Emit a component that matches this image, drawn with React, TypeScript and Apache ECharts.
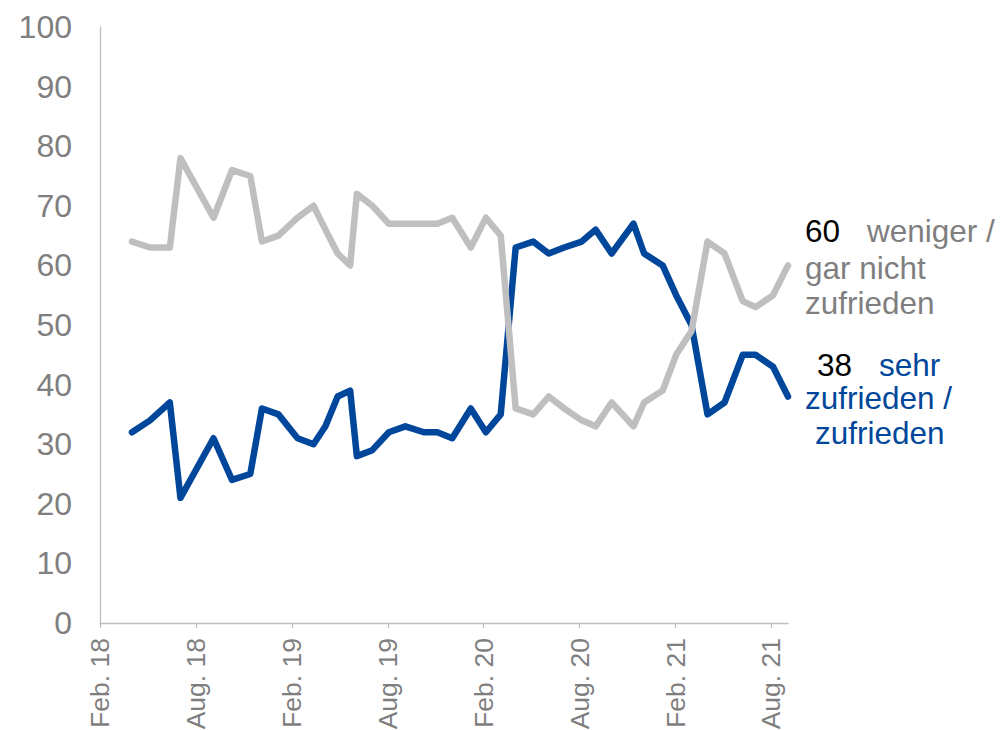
import React, { useEffect, useRef } from "react";
import * as echarts from "echarts";

// Survey dates (approximate publication dates)
const surveyDates = [
  "2018-04-01", "2018-05-05", "2018-06-12", "2018-07-02", "2018-09-04", "2018-10-09",
  "2018-11-13", "2018-12-05", "2019-01-06", "2019-02-11", "2019-03-12", "2019-04-04",
  "2019-04-27", "2019-05-21", "2019-06-03", "2019-07-02", "2019-08-03", "2019-09-04",
  "2019-10-09", "2019-11-04", "2019-12-02", "2020-01-07", "2020-02-05", "2020-03-03",
  "2020-04-01", "2020-05-04", "2020-06-03", "2020-07-02", "2020-08-05", "2020-09-01",
  "2020-10-01", "2020-11-12", "2020-12-02", "2021-01-07", "2021-02-02", "2021-03-01",
  "2021-04-01", "2021-05-03", "2021-06-07", "2021-07-01", "2021-08-04", "2021-09-02",
];

// "sehr zufrieden / zufrieden"
const satisfied = [
  32, 34, 37, 21, 31, 24, 25, 36, 35, 31, 30, 33,
  38, 39, 28, 29, 32, 33, 32, 32, 31, 36, 32, 35,
  63, 64, 62, 63, 64, 66, 62, 67, 62, 60, 55, 50,
  35, 37, 45, 45, 43, 38,
];

// "weniger / gar nicht zufrieden"
const dissatisfied = [
  64, 63, 63, 78, 68, 76, 75, 64, 65, 68, 70, 66,
  62, 60, 72, 70, 67, 67, 67, 67, 68, 63, 68, 65,
  36, 35, 38, 36, 34, 33, 37, 33, 37, 39, 45, 49,
  64, 62, 54, 53, 55, 60,
];

const xTickLabels = ["Feb. 18", "Aug. 18", "Feb. 19", "Aug. 19", "Feb. 20", "Aug. 20", "Feb. 21", "Aug. 21"];
const yTicks = [0, 10, 20, 30, 40, 50, 60, 70, 80, 90, 100];

const FONT = '"Liberation Sans", Arial, sans-serif';
const GRAY_TEXT = "#7F7F7F";
const GRAY_LINE = "#BFBFBF";
const BLUE = "#00479B";

// months since Feb 2018 (fractional)
function monthIndex(d: string): number {
  const [y, m, day] = d.split("-").map(Number);
  const dim = new Date(y, m, 0).getDate();
  return (y - 2018) * 12 + (m - 2) + (day - 1) / dim;
}

export default function App() {
  const ref = useRef<HTMLDivElement>(null);
  useEffect(() => {
    if (!ref.current) return;
    const chart = echarts.init(ref.current, undefined, { renderer: "svg" });
    const xs = surveyDates.map(monthIndex);
    const tickValues = xTickLabels.map((_, i) => i * 6);
    const lastSat = satisfied[satisfied.length - 1];
    const lastDis = dissatisfied[dissatisfied.length - 1];
    const txt = (text: string, x: number, y: number, fill: string) => ({
      type: "text",
      x,
      y,
      silent: true,
      style: { text, fill, fontSize: 31.5, fontFamily: FONT, align: "left", verticalAlign: "middle" },
    });
    chart.setOption({
      animation: false,
      grid: { left: 100, right: 214, top: 27, bottom: 107, containLabel: false, outerBoundsMode: "none" },
      xAxis: {
        type: "value",
        min: 0,
        max: xs[xs.length - 1],
        interval: 6,
        splitLine: { show: false },
        axisLine: { show: true, lineStyle: { color: GRAY_LINE, width: 1.3 } },
        axisTick: { show: true, length: 5, lineStyle: { color: GRAY_LINE, width: 1.3 }, customValues: tickValues },
        axisLabel: {
          rotate: 90,
          margin: 15,
          color: GRAY_TEXT,
          fontSize: 26.5,
          fontFamily: FONT,
          customValues: tickValues,
          formatter: (v: number) => {
            const i = Math.round(v / 6);
            return Math.abs(v - i * 6) < 1e-6 && xTickLabels[i] ? xTickLabels[i] : "";
          },
        },
      },
      yAxis: {
        type: "value",
        min: yTicks[0],
        max: yTicks[yTicks.length - 1],
        interval: 10,
        splitLine: { show: false },
        axisLine: { show: true, lineStyle: { color: GRAY_LINE, width: 1.3 } },
        axisTick: { show: false },
        axisLabel: { margin: 28, color: GRAY_TEXT, fontSize: 32, fontFamily: FONT },
      },
      series: [
        {
          name: "sehr zufrieden / zufrieden",
          type: "line",
          data: xs.map((x, i) => [x, satisfied[i]]),
          showSymbol: false,
          symbol: "none",
          lineStyle: { color: BLUE, width: 6.5, cap: "round", join: "round" },
          z: 2,
        },
        {
          name: "weniger / gar nicht zufrieden",
          type: "line",
          data: xs.map((x, i) => [x, dissatisfied[i]]),
          showSymbol: false,
          symbol: "none",
          lineStyle: { color: GRAY_LINE, width: 6.5, cap: "round", join: "round" },
          z: 3,
        },
      ],
      graphic: [
        txt(String(lastDis), 805, 231, "#000000"),
        txt("weniger /", 867, 231, GRAY_TEXT),
        txt("gar nicht", 805, 267.5, GRAY_TEXT),
        txt("zufrieden", 805, 302.5, GRAY_TEXT),
        txt(String(lastSat), 817, 364.5, "#000000"),
        txt("sehr", 879, 364.5, BLUE),
        txt("zufrieden /", 805, 397.5, BLUE),
        txt("zufrieden", 815, 432.5, BLUE),
      ],
    });
    return () => chart.dispose();
  }, []);
  return (
    <div
      ref={ref}
      style={{ position: "fixed", left: 0, top: 0, width: 1002, height: 730, background: "#fff" }}
    />
  );
}
